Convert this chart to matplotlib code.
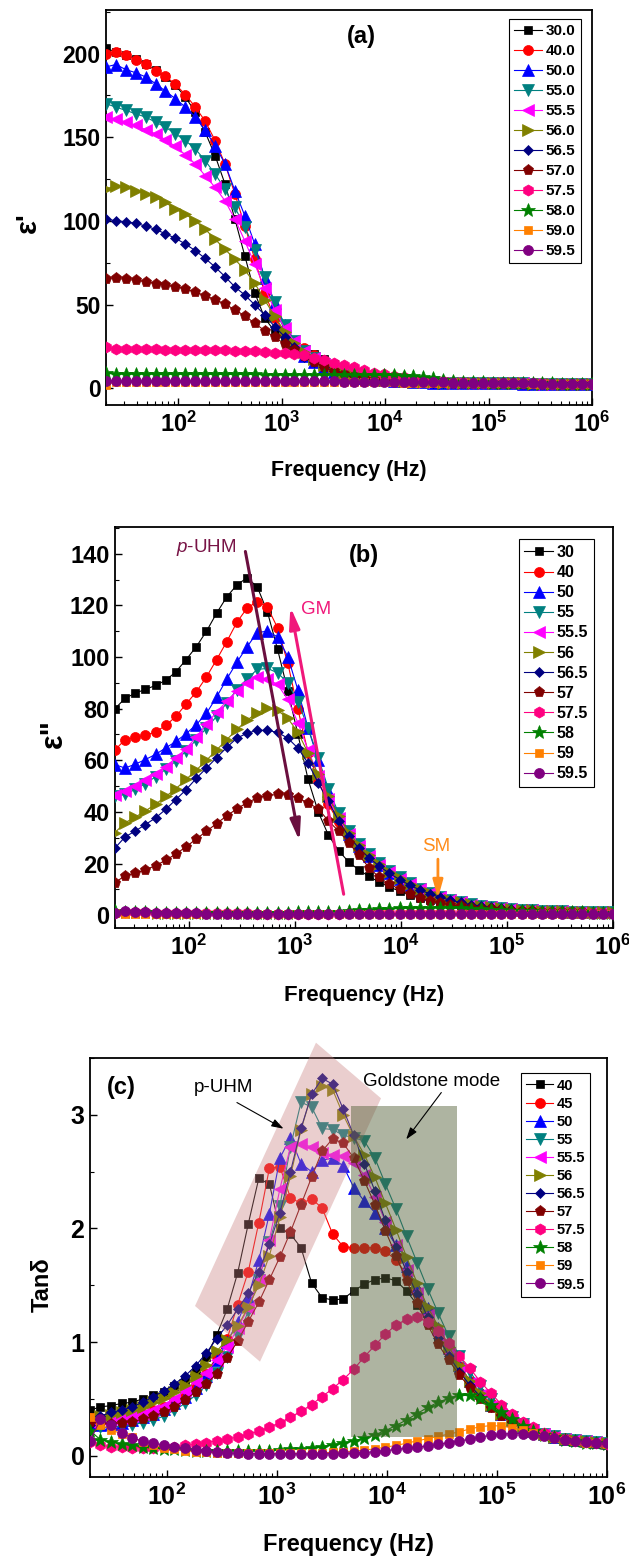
import matplotlib
matplotlib.use('Agg')
import matplotlib.pyplot as plt
from matplotlib.patches import Polygon, Rectangle
from matplotlib.ticker import LogLocator, NullFormatter, MultipleLocator

plt.rcParams['font.family'] = ['Liberation Sans', 'DejaVu Sans']
plt.rcParams['font.weight'] = 'bold'
plt.rcParams['mathtext.fontset'] = 'custom'
plt.rcParams['mathtext.rm'] = 'Liberation Sans:bold'
plt.rcParams['mathtext.bf'] = 'Liberation Sans:bold'
plt.rcParams['mathtext.it'] = 'Liberation Sans:italic:normal'

# measurement frequencies (Hz)
freq = [20.0, 24.9, 31.1, 38.8, 48.4, 60.3, 75.2, 93.8, 117, 146,
        182, 227, 283, 353, 440, 549, 684, 854, 1065, 1328,
        1656, 2065, 2575, 3211, 4004, 4994, 6228, 7767, 9687, 12080,
        15066, 18789, 23432, 29223, 36445, 45451, 56683, 70691, 88160, 109946,
        137115, 171000, 213257, 265958, 331682, 413646, 515865, 643342, 802318, 1000000]

# ---- (a) real permittivity
labels_a = ['30.0', '40.0', '50.0', '55.0', '55.5', '56.0', '56.5', '57.0', '57.5', '58.0', '59.0', '59.5']
a_300 = [203, 201, 199, 197, 194, 190, 186, 181, 174, 165, 153, 139, 122, 101, 79, 57, 42, 34, 29, 25,
         22.5, 20.5, 17.5, 14.5, 12, 10, 8.5, 7.2, 6.2, 5.4, 4.8, 4.3, 4.0, 3.7, 3.5, 3.4, 3.3, 3.2, 3.1, 3.05,
         3.0, 2.95, 2.9, 2.85, 2.8, 2.8, 2.75, 2.7, 2.7, 2.65]
a_400 = [200, 201, 199, 196, 193.8, 189.8, 186.5, 181.5, 175.5, 168, 159.6, 148, 134, 116, 97, 77, 57, 42, 33, 28,
         24, 20, 16.5, 13.5, 11, 9, 7.6, 6.5, 5.6, 5.0, 4.5, 4.1, 3.8, 3.6, 3.45, 3.35, 3.25, 3.15, 3.1, 3.05,
         3.0, 2.95, 2.9, 2.85, 2.8, 2.8, 2.75, 2.7, 2.7, 2.65]
a_500 = [192, 193.4, 190.4, 188.5, 186, 182, 177.5, 173, 168, 162, 154, 145, 134, 118, 103, 86, 66, 51, 38, 27,
         19, 15.5, 12.5, 10, 8.2, 7, 6, 5.3, 4.8, 4.4, 4.1, 3.8, 3.6, 3.4, 3.3, 3.2, 3.1, 3.05, 3.0, 2.95,
         2.9, 2.85, 2.8, 2.8, 2.75, 2.75, 2.7, 2.7, 2.65, 2.65]
a_550 = [170, 168, 166, 164, 162, 159, 156, 152, 148, 143, 136, 128, 119, 108, 96.5, 82.6, 66.7, 51.7, 38, 28.5,
         22, 18, 14.5, 11.5, 9.3, 7.8, 6.7, 5.8, 5.2, 4.7, 4.3, 4.0, 3.7, 3.5, 3.4, 3.3, 3.2, 3.1, 3.05, 3.0,
         2.95, 2.9, 2.85, 2.8, 2.8, 2.75, 2.75, 2.7, 2.7, 2.65]
a_555 = [162, 161, 159, 157, 154.5, 152, 148.5, 144.5, 139.5, 134, 127, 120, 112, 101, 88, 74, 60, 47, 36, 28,
         22, 18, 14.5, 11.5, 9.3, 7.8, 6.7, 5.8, 5.2, 4.7, 4.3, 4.0, 3.7, 3.5, 3.4, 3.3, 3.2, 3.1, 3.05, 3.0,
         2.95, 2.9, 2.85, 2.8, 2.8, 2.75, 2.75, 2.7, 2.7, 2.65]
a_560 = [119, 121, 120, 118, 116, 114, 111, 107, 104, 100, 95, 89, 83, 77, 70.6, 62.7, 52.7, 43.2, 33.8, 27,
         21.5, 17.5, 14, 11.3, 9.2, 7.7, 6.6, 5.8, 5.2, 4.7, 4.3, 4.0, 3.7, 3.5, 3.4, 3.3, 3.2, 3.1, 3.05, 3.0,
         2.95, 2.9, 2.85, 2.8, 2.8, 2.75, 2.75, 2.7, 2.7, 2.65]
a_565 = [101, 100.1, 99.5, 98.5, 96.9, 94.9, 92.3, 89.6, 86.2, 82.2, 77.6, 72.4, 66.7, 60.5, 55.7, 49.8, 43.8, 36.8, 30.9, 24.5,
         18.5, 15.5, 12.5, 10.2, 8.4, 7.1, 6.1, 5.4, 4.8, 4.4, 4.1, 3.8, 3.6, 3.4, 3.3, 3.2, 3.1, 3.05, 3.0, 2.95,
         2.9, 2.85, 2.8, 2.8, 2.75, 2.75, 2.7, 2.7, 2.65, 2.65]
a_570 = [65, 65.7, 65, 64.5, 63.7, 62.5, 61.7, 60.5, 59.5, 57.5, 55.3, 53, 50.3, 46.8, 43.3, 38.8, 34.4, 30.5, 26.5, 23,
         19, 15.5, 12.5, 10.3, 8.6, 7.3, 6.3, 5.5, 4.9, 4.5, 4.1, 3.8, 3.6, 3.4, 3.3, 3.2, 3.1, 3.05, 3.0, 2.95,
         2.9, 2.85, 2.8, 2.8, 2.75, 2.75, 2.7, 2.7, 2.65, 2.65]
a_575 = [24.5, 23.3, 23.3, 23.3, 23.2, 23.2, 23.1, 23.0, 23.0, 22.9, 22.8, 22.7, 22.6, 22.5, 22.2, 22.0, 21.7, 21.3, 20.8, 20.3,
         19.7, 18.2, 16.9, 15.3, 13.9, 12.5, 10.9, 9.4, 8.5, 7.5, 6.6, 5.7, 5.0, 4.5, 4.1, 3.8, 3.6, 3.4, 3.3, 3.2,
         3.1, 3.0, 2.95, 2.9, 2.85, 2.8, 2.8, 2.75, 2.7, 2.7]
a_580 = [9.0, 8.6, 8.5, 8.5, 8.5, 8.5, 8.4, 8.4, 8.4, 8.4, 8.4, 8.3, 8.3, 8.3, 8.3, 8.3, 8.2, 8.2, 8.2, 8.2,
         8.2, 8.1, 8.1, 8.1, 8.0, 8.0, 8.0, 7.9, 7.9, 7.8, 7.6, 7.3, 6.8, 6.0, 5.2, 4.5, 4.0, 3.7, 3.5, 3.3,
         3.2, 3.1, 3.0, 2.95, 2.9, 2.85, 2.8, 2.75, 2.7, 2.7]
a_590 = [2.0, 3.8, 3.8, 3.8, 3.8, 3.8, 3.8, 3.8, 3.8, 3.8, 3.8, 3.8, 3.8, 3.8, 3.8, 3.8, 3.8, 3.7, 3.7, 3.7,
         3.7, 3.7, 3.7, 3.6, 3.6, 3.6, 3.6, 3.5, 3.5, 3.5, 3.4, 3.4, 3.3, 3.3, 3.2, 3.2, 3.1, 3.1, 3.0, 3.0,
         2.95, 2.9, 2.85, 2.8, 2.8, 2.75, 2.75, 2.7, 2.7, 2.65]
a_595 = [4.6, 4.3, 4.3, 4.3, 4.3, 4.3, 4.3, 4.3, 4.3, 4.3, 4.3, 4.3, 4.2, 4.2, 4.2, 4.2, 4.2, 4.2, 4.2, 4.1,
         4.1, 4.1, 4.1, 4.1, 4.0, 4.0, 4.0, 4.0, 3.9, 3.9, 3.8, 3.8, 3.7, 3.6, 3.5, 3.4, 3.3, 3.2, 3.1, 3.05,
         3.0, 2.95, 2.9, 2.85, 2.8, 2.8, 2.75, 2.7, 2.7, 2.65]

# ---- (b) imaginary permittivity
labels_b = ['30', '40', '50', '55', '55.5', '56', '56.5', '57', '57.5', '58', '59', '59.5']
b_300 = [80, 84, 86, 87.5, 89, 91, 94.3, 99, 104, 110, 117, 123.3, 128, 130.7, 127.2, 117.5, 103, 87, 70, 52.6,
         40, 31, 25, 20.6, 17.5, 15, 12.8, 10.9, 9.3, 7.9, 6.7, 5.7, 4.9, 4.2, 3.6, 3.1, 2.7, 2.4, 2.1, 1.9,
         1.7, 1.6, 1.5, 1.4, 1.3, 1.2, 1.1, 1.05, 1.0, 0.95]
b_400 = [64, 68, 69, 69.7, 71, 73.5, 77, 81.8, 86.5, 92.3, 99, 106, 113.5, 119, 121.5, 119.4, 111.3, 97.7, 79.7, 63,
         52, 43, 36, 31, 26.5, 22.5, 19, 16, 13.5, 11.3, 9.5, 8.0, 6.7, 5.6, 4.7, 4.0, 3.4, 2.9, 2.5, 2.2,
         2.0, 1.8, 1.6, 1.5, 1.4, 1.3, 1.2, 1.1, 1.05, 1.0]
b_500 = [58.3, 57, 58.5, 60.3, 62.3, 64.8, 67.3, 70.3, 73.8, 78.2, 84.5, 91.5, 98, 104, 109.5, 110, 107.8, 100.2, 87.2, 72.5,
         60, 48, 38.5, 31.5, 26.8, 22.8, 19.4, 16.5, 13.9, 11.7, 9.8, 8.2, 6.9, 5.8, 4.9, 4.1, 3.5, 3.0, 2.6, 2.3,
         2.05, 1.85, 1.7, 1.55, 1.45, 1.35, 1.25, 1.15, 1.1, 1.05]
b_550 = [46, 46.8, 48.7, 51, 53.6, 56.5, 59.7, 63.6, 68, 72.5, 77, 82.3, 87.4, 91.6, 95.2, 95.6, 93.9, 90, 82.7, 72.6,
         61, 49, 39.5, 32.5, 27.6, 23.6, 20.2, 17.2, 14.6, 12.3, 10.3, 8.6, 7.2, 6.0, 5.0, 4.2, 3.6, 3.1, 2.7, 2.4,
         2.1, 1.9, 1.75, 1.6, 1.5, 1.4, 1.3, 1.2, 1.1, 1.05]
b_555 = [46.5, 48, 50, 52.4, 54.5, 57.5, 61, 64.5, 69, 74, 78.7, 82.9, 86.8, 90, 92.3, 91.5, 89.4, 83.6, 74.5, 64,
         54, 45, 37.5, 31.5, 26.8, 22.9, 19.6, 16.7, 14.1, 11.9, 10.0, 8.4, 7.0, 5.9, 4.9, 4.1, 3.5, 3.0, 2.6, 2.3,
         2.05, 1.85, 1.7, 1.55, 1.45, 1.35, 1.25, 1.15, 1.1, 1.05]
b_560 = [32, 35.8, 38, 40.4, 43, 46, 49, 52.6, 56.2, 60, 64, 68, 72, 75.5, 78.5, 80.2, 79.3, 76.3, 70.8, 62.8,
         54.5, 46, 38.5, 32, 27.2, 23.2, 19.8, 16.9, 14.3, 12.1, 10.1, 8.5, 7.1, 6.0, 5.0, 4.2, 3.6, 3.1, 2.7, 2.4,
         2.1, 1.9, 1.75, 1.6, 1.5, 1.4, 1.3, 1.2, 1.1, 1.05]
b_565 = [26, 30.3, 32.6, 35.1, 37.7, 41, 44.8, 48.6, 53, 57, 61, 65, 68.6, 70.5, 71.6, 71.6, 70.8, 68.6, 64.7, 58.9,
         51.2, 44.1, 36.5, 30.5, 26, 22.2, 19, 16.2, 13.8, 11.6, 9.8, 8.2, 6.9, 5.8, 4.9, 4.1, 3.5, 3.0, 2.6, 2.3,
         2.05, 1.85, 1.7, 1.55, 1.45, 1.35, 1.25, 1.15, 1.1, 1.05]
b_570 = [12.6, 15.3, 16.3, 17.6, 19.2, 21.3, 23.7, 26.5, 29.5, 32.5, 35.5, 38.5, 41.2, 43.6, 45.4, 46.3, 46.8, 46.5, 45.4, 43.5,
         41.2, 36.5, 32.6, 28.1, 23.2, 18.4, 14.6, 12, 10.1, 8.1, 6.7, 5.5, 4.7, 4.0, 3.4, 2.9, 2.5, 2.2, 1.95, 1.75,
         1.6, 1.45, 1.35, 1.25, 1.2, 1.1, 1.05, 1.0, 0.95, 0.9]
b_575 = [1.0, 1.3, 1.2, 1.1, 1.0, 0.95, 0.9, 0.85, 0.8, 0.75, 0.7, 0.7, 0.65, 0.65, 0.6, 0.6, 0.6, 0.6, 0.6, 0.6,
         0.6, 0.6, 0.6, 0.65, 0.65, 0.7, 0.7, 0.75, 0.8, 0.8, 0.8, 0.8, 0.8, 0.8, 0.75, 0.75, 0.7, 0.7, 0.7, 0.7,
         0.7, 0.7, 0.7, 0.7, 0.7, 0.7, 0.7, 0.7, 0.7, 0.7]
b_580 = [1.6, 1.3, 1.2, 1.1, 1.0, 1.0, 0.95, 0.95, 0.9, 0.9, 0.9, 0.9, 0.9, 0.9, 0.95, 0.95, 1.0, 1.0, 1.05, 1.1,
         1.2, 1.3, 1.4, 1.6, 1.8, 2.0, 2.2, 2.4, 2.6, 2.7, 2.8, 2.85, 2.85, 2.8, 2.7, 2.55, 2.35, 2.15, 1.95, 1.75,
         1.6, 1.45, 1.35, 1.25, 1.15, 1.1, 1.05, 1.0, 1.0, 0.95]
b_590 = [1.0, 0.6, 0.6, 0.6, 0.6, 0.6, 0.6, 0.6, 0.6, 0.6, 0.6, 0.6, 0.6, 0.6, 0.6, 0.6, 0.6, 0.6, 0.6, 0.6,
         0.6, 0.6, 0.6, 0.6, 0.6, 0.6, 0.6, 0.6, 0.6, 0.6, 0.6, 0.6, 0.6, 0.6, 0.6, 0.6, 0.6, 0.6, 0.6, 0.6,
         0.6, 0.6, 0.6, 0.6, 0.6, 0.6, 0.6, 0.6, 0.6, 0.6]
b_595 = [0.9, 1.5, 1.4, 1.2, 1.0, 0.9, 0.8, 0.7, 0.65, 0.6, 0.55, 0.5, 0.5, 0.45, 0.45, 0.4, 0.4, 0.4, 0.4, 0.4,
         0.4, 0.4, 0.4, 0.4, 0.4, 0.4, 0.4, 0.4, 0.4, 0.4, 0.4, 0.4, 0.4, 0.4, 0.4, 0.4, 0.4, 0.4, 0.4, 0.4,
         0.4, 0.4, 0.4, 0.4, 0.4, 0.4, 0.45, 0.45, 0.45, 0.45]

# ---- (c) loss tangent
labels_c = ['40', '45', '50', '55', '55.5', '56', '56.5', '57', '57.5', '58', '59', '59.5']
c_400 = [0.40, 0.43, 0.44, 0.46, 0.47, 0.50, 0.53, 0.56, 0.61, 0.67, 0.75, 0.87, 1.06, 1.29, 1.61, 2.04, 2.44, 2.39, 2.00, 1.95,
         1.83, 1.52, 1.39, 1.37, 1.38, 1.45, 1.51, 1.55, 1.565, 1.54, 1.45, 1.33, 1.18, 1.03, 0.89, 0.76, 0.63, 0.53, 0.44, 0.37,
         0.31, 0.26, 0.22, 0.19, 0.165, 0.15, 0.135, 0.125, 0.12, 0.115]
c_450 = [0.33, 0.33, 0.34, 0.34, 0.35, 0.37, 0.40, 0.43, 0.48, 0.54, 0.62, 0.72, 0.87, 1.03, 1.33, 1.62, 2.05, 2.53, 2.54, 2.27,
         2.22, 2.26, 2.18, 1.95, 1.84, 1.83, 1.83, 1.83, 1.80, 1.72, 1.60, 1.45, 1.28, 1.10, 0.94, 0.79, 0.66, 0.55, 0.46, 0.38,
         0.31, 0.26, 0.22, 0.19, 0.165, 0.15, 0.135, 0.125, 0.12, 0.115]
c_500 = [0.28, 0.27, 0.28, 0.29, 0.31, 0.34, 0.37, 0.41, 0.46, 0.52, 0.60, 0.70, 0.84, 1.00, 1.18, 1.40, 1.72, 2.13, 2.62, 2.80,
         2.57, 2.50, 2.60, 2.62, 2.55, 2.36, 2.24, 2.14, 2.00, 1.85, 1.67, 1.48, 1.30, 1.12, 0.95, 0.80, 0.66, 0.55, 0.45, 0.37,
         0.31, 0.26, 0.22, 0.19, 0.165, 0.15, 0.135, 0.125, 0.12, 0.115]
c_550 = [0.26, 0.25, 0.25, 0.26, 0.27, 0.29, 0.31, 0.35, 0.40, 0.46, 0.53, 0.62, 0.73, 0.87, 1.05, 1.27, 1.55, 1.88, 2.20, 2.72,
         3.11, 3.07, 2.88, 2.87, 2.82, 2.80, 2.77, 2.62, 2.39, 2.17, 1.93, 1.70, 1.47, 1.255, 1.05, 0.88, 0.74, 0.61, 0.50, 0.41,
         0.34, 0.28, 0.23, 0.195, 0.17, 0.15, 0.135, 0.125, 0.12, 0.115]
c_555 = [0.30, 0.32, 0.32, 0.33, 0.35, 0.37, 0.40, 0.44, 0.50, 0.57, 0.65, 0.73, 0.84, 0.96, 1.12, 1.30, 1.55, 1.90, 2.35, 2.72,
         2.74, 2.72, 2.66, 2.65, 2.64, 2.58, 2.47, 2.28, 2.06, 1.85, 1.63, 1.43, 1.24, 1.06, 0.90, 0.76, 0.64, 0.53, 0.44, 0.37,
         0.31, 0.26, 0.22, 0.19, 0.165, 0.15, 0.135, 0.125, 0.12, 0.115]
c_560 = [0.33, 0.35, 0.36, 0.38, 0.40, 0.43, 0.47, 0.51, 0.56, 0.62, 0.70, 0.80, 0.92, 1.02, 1.14, 1.31, 1.50, 1.76, 2.10, 2.46,
         2.87, 3.18, 3.25, 3.22, 3.00, 2.81, 2.65, 2.45, 2.22, 1.99, 1.75, 1.52, 1.31, 1.14, 0.96, 0.80, 0.66, 0.55, 0.45, 0.37,
         0.31, 0.26, 0.22, 0.19, 0.165, 0.15, 0.135, 0.125, 0.12, 0.115]
c_565 = [0.27, 0.35, 0.38, 0.40, 0.43, 0.47, 0.52, 0.57, 0.63, 0.70, 0.79, 0.90, 1.03, 1.15, 1.29, 1.43, 1.62, 1.86, 2.14, 2.50,
         2.88, 3.18, 3.32, 3.27, 3.05, 2.82, 2.57, 2.33, 2.07, 1.84, 1.62, 1.42, 1.22, 1.04, 0.88, 0.74, 0.62, 0.52, 0.43, 0.36,
         0.30, 0.255, 0.22, 0.19, 0.165, 0.15, 0.135, 0.125, 0.12, 0.115]
c_570 = [0.30, 0.28, 0.28, 0.29, 0.30, 0.32, 0.35, 0.38, 0.43, 0.49, 0.56, 0.63, 0.72, 0.86, 1.01, 1.18, 1.35, 1.55, 1.75, 1.97,
         2.21, 2.45, 2.68, 2.79, 2.75, 2.62, 2.42, 2.21, 1.98, 1.76, 1.54, 1.34, 1.15, 0.98, 0.84, 0.71, 0.60, 0.50, 0.42, 0.35,
         0.29, 0.25, 0.21, 0.18, 0.16, 0.145, 0.13, 0.12, 0.115, 0.11]
c_575 = [0.12, 0.09, 0.08, 0.075, 0.07, 0.07, 0.07, 0.075, 0.08, 0.09, 0.10, 0.115, 0.13, 0.145, 0.165, 0.19, 0.215, 0.25, 0.29, 0.34,
         0.39, 0.45, 0.52, 0.59, 0.67, 0.76, 0.87, 0.97, 1.07, 1.15, 1.20, 1.22, 1.18, 1.10, 0.99, 0.88, 0.77, 0.65, 0.55, 0.45,
         0.37, 0.30, 0.25, 0.20, 0.17, 0.15, 0.13, 0.12, 0.11, 0.105]
c_580 = [0.22, 0.14, 0.12, 0.10, 0.09, 0.08, 0.07, 0.06, 0.055, 0.05, 0.045, 0.045, 0.04, 0.04, 0.04, 0.04, 0.04, 0.045, 0.05, 0.055,
         0.06, 0.07, 0.08, 0.095, 0.11, 0.13, 0.155, 0.185, 0.22, 0.265, 0.315, 0.37, 0.425, 0.47, 0.505, 0.53, 0.53, 0.505, 0.45, 0.38,
         0.32, 0.265, 0.22, 0.185, 0.16, 0.14, 0.125, 0.115, 0.11, 0.105]
c_590 = [0.34, 0.27, 0.23, 0.19, 0.16, 0.12, 0.09, 0.07, 0.055, 0.045, 0.035, 0.03, 0.025, 0.025, 0.02, 0.02, 0.02, 0.02, 0.02, 0.02,
         0.02, 0.025, 0.025, 0.03, 0.035, 0.04, 0.05, 0.06, 0.075, 0.09, 0.11, 0.13, 0.15, 0.17, 0.19, 0.21, 0.235, 0.255, 0.265, 0.26,
         0.245, 0.225, 0.20, 0.175, 0.155, 0.14, 0.125, 0.115, 0.11, 0.105]
c_595 = [0.13, 0.32, 0.27, 0.20, 0.155, 0.13, 0.11, 0.095, 0.08, 0.065, 0.05, 0.04, 0.03, 0.025, 0.02, 0.018, 0.016, 0.015, 0.015, 0.015,
         0.015, 0.015, 0.016, 0.018, 0.02, 0.022, 0.027, 0.035, 0.045, 0.055, 0.065, 0.075, 0.085, 0.10, 0.115, 0.13, 0.145, 0.165, 0.18, 0.19,
         0.195, 0.195, 0.185, 0.17, 0.155, 0.14, 0.13, 0.12, 0.115, 0.11]

series_a = [a_300, a_400, a_500, a_550, a_555, a_560, a_565, a_570, a_575, a_580, a_590, a_595]
series_b = [b_300, b_400, b_500, b_550, b_555, b_560, b_565, b_570, b_575, b_580, b_590, b_595]
series_c = [c_400, c_450, c_500, c_550, c_555, c_560, c_565, c_570, c_575, c_580, c_590, c_595]

colors = ['#000000', '#ff0000', '#0000ff', '#008080', '#ff00ff', '#808000',
          '#000080', '#800000', '#ff0080', '#008000', '#ff8000', '#800080']
markers = ['s', 'o', '^', 'v', '<', '>', 'D', 'p', 'h', '*', 's', 'o']
msizes = [6.2, 7.2, 8, 8, 8, 8, 5.6, 8, 8, 10, 6.2, 7.2]


def draw_panel(ax, series, labels, ylim, ymajor, yminor, ytick_fs, xtick_fs):
    for y, lab, c, m, ms in zip(series, labels, colors, markers, msizes):
        ax.plot(freq, y, color=c, lw=0.8, marker=m, ms=ms, mec=c, mew=0.5, label=lab, zorder=3)
    ax.set_xscale('log')
    ax.set_xlim(20, 1e6)
    ax.set_ylim(*ylim)
    ax.set_xticks([1e2, 1e3, 1e4, 1e5, 1e6])
    ax.set_xticklabels([r'$10^{2}$', r'$10^{3}$', r'$10^{4}$', r'$10^{5}$', r'$10^{6}$'])
    ax.xaxis.set_minor_locator(LogLocator(base=10, subs=[2, 3, 4, 5, 6, 7, 8, 9], numticks=20))
    ax.xaxis.set_minor_formatter(NullFormatter())
    ax.yaxis.set_major_locator(MultipleLocator(ymajor))
    ax.yaxis.set_minor_locator(MultipleLocator(yminor))
    ax.tick_params(which='both', direction='in', top=False, right=False)
    ax.tick_params(which='major', length=5, width=1.0, pad=4)
    ax.tick_params(which='minor', length=3, width=0.8)
    ax.tick_params(axis='y', labelsize=ytick_fs)
    ax.tick_params(axis='x', labelsize=xtick_fs, pad=5)
    for lbl in ax.get_yticklabels():
        lbl.set_fontweight('bold')
    for sp in ax.spines.values():
        sp.set_linewidth(1.3)


def add_legend(ax, anchor, fs, spacing):
    leg = ax.legend(loc='upper right', bbox_to_anchor=anchor, borderaxespad=0, fancybox=False,
                    edgecolor='black', framealpha=1, fontsize=fs, handlelength=1.8,
                    handletextpad=0.25, labelspacing=spacing, borderpad=0.35, numpoints=1, markerscale=1.0)
    leg.get_frame().set_linewidth(0.8)
    leg.set_zorder(10)


fig = plt.figure(figsize=(6.29, 15.6), dpi=100)

# (a)
ax1 = fig.add_axes([0.1685, 0.7404, 0.7727, 0.2532])
draw_panel(ax1, series_a, labels_a, (-10, 226), 50, 25, 16.5, 17)
add_legend(ax1, (0.977, 0.977), 11, 0.39)
ax1.text(0.526, 0.934, '(a)', transform=ax1.transAxes, ha='center', va='center', fontsize=17)
ax1.text(-0.16, 0.463, "ε'", transform=ax1.transAxes, rotation=90, ha='center', va='center', fontsize=21)
ax1.text(0.5, -0.165, 'Frequency (Hz)', transform=ax1.transAxes, ha='center', va='center', fontsize=15.5)

# (b)
ax2 = fig.add_axes([0.1828, 0.4051, 0.7917, 0.2571])
draw_panel(ax2, series_b, labels_b, (-5, 150.4), 20, 10, 17, 17)
add_legend(ax2, (0.962, 0.969), 11.5, 0.32)
ax2.text(0.5, 0.930, '(b)', transform=ax2.transAxes, ha='center', va='center', fontsize=17)
ax2.text(-0.1225, 0.486, 'ε"', transform=ax2.transAxes, rotation=90, ha='center', va='center', fontsize=22)
ax2.text(0.5, -0.167, 'Frequency (Hz)', transform=ax2.transAxes, ha='center', va='center', fontsize=16)
ax2.text(145, 142.6, r'$p$-UHM', color='#781446', fontsize=13.5, fontweight='normal', ha='center', va='center')
ax2.annotate('', xy=(1104, 28.7), xytext=(340, 140.9),
             arrowprops=dict(arrowstyle='-|>,head_length=0.9,head_width=0.22', color='#6a0f3f', lw=2.2,
                             shrinkA=0, shrinkB=0, mutation_scale=14))
ax2.text(1581, 118.4, 'GM', color='#f0187a', fontsize=13.5, fontweight='normal', ha='center', va='center')
ax2.annotate('', xy=(904, 119.4), xytext=(2877, 8.1),
             arrowprops=dict(arrowstyle='-|>,head_length=0.9,head_width=0.22', color='#f0187a', lw=2.2,
                             shrinkA=0, shrinkB=0, mutation_scale=14))
ax2.text(21500, 26.5, 'SM', color='#ff8c1a', fontsize=13.5, fontweight='normal', ha='center', va='center')
ax2.annotate('', xy=(22300, 6.5), xytext=(22300, 21.7),
             arrowprops=dict(arrowstyle='-|>,head_length=0.9,head_width=0.25', color='#ff8c1a', lw=2.0,
                             shrinkA=0, shrinkB=0, mutation_scale=12))

# (c)
ax3 = fig.add_axes([0.1431, 0.0534, 0.8219, 0.2684])
draw_panel(ax3, series_c, labels_c, (-0.185, 3.5), 1, 0.5, 18, 18)
add_legend(ax3, (0.967, 0.963), 10.5, 0.28)
ax3.text(0.0596, 0.93, '(c)', transform=ax3.transAxes, ha='center', va='center', fontsize=17)
ax3.text(-0.092, 0.458, 'Tanδ', transform=ax3.transAxes, rotation=90, ha='center', va='center', fontsize=17)
ax3.text(0.5, -0.163, 'Frequency (Hz)', transform=ax3.transAxes, ha='center', va='center', fontsize=17)

pink_box = Polygon([[0.4371, 1.0366], [0.5629, 0.9037], [0.3288, 0.2747], [0.2031, 0.4077]], closed=True,
                   transform=ax3.transAxes, facecolor='#c88080', alpha=0.38, edgecolor='none',
                   clip_on=False, zorder=5)
ax3.add_patch(pink_box)
gold_box = Rectangle((4710, 0.168), 43300 - 4710, 3.078 - 0.168, facecolor='#556139', alpha=0.475,
                     edgecolor='none', zorder=5)
ax3.add_patch(gold_box)

ax3.text(327, 3.243, 'p-UHM', fontsize=13.5, fontweight='normal', ha='center', va='center', zorder=6)
ax3.annotate('', xy=(1148, 2.878), xytext=(433, 3.108),
             arrowprops=dict(arrowstyle='-|>,head_length=0.6,head_width=0.2', color='black', lw=0.8,
                             shrinkA=0, shrinkB=0, mutation_scale=12), zorder=6)
ax3.text(25400, 3.29, 'Goldstone mode', fontsize=13.5, fontweight='normal', ha='center', va='center', zorder=6)
ax3.annotate('', xy=(14960, 2.784), xytext=(31200, 3.196),
             arrowprops=dict(arrowstyle='-|>,head_length=0.6,head_width=0.2', color='black', lw=0.8,
                             shrinkA=0, shrinkB=0, mutation_scale=12), zorder=6)

fig.savefig('out.png', dpi=100)
